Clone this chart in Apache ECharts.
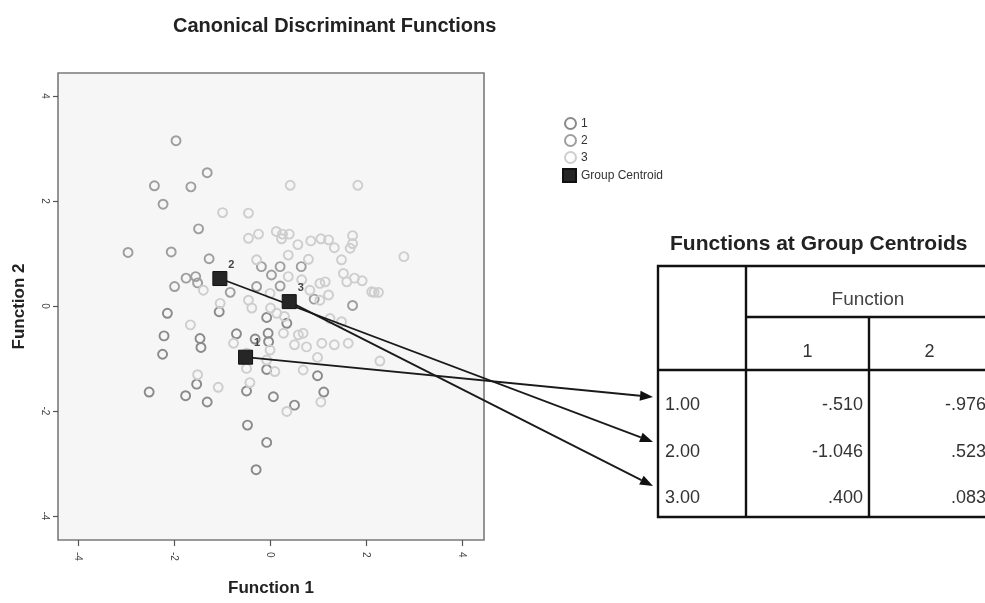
<!DOCTYPE html>
<html>
<head>
<meta charset="utf-8">
<title>Canonical Discriminant Functions</title>
<script src="https://cdn.jsdelivr.net/npm/echarts@6/dist/echarts.min.js"></script>
<style>
html, body { margin: 0; padding: 0; background: #fff; }
#main { width: 985px; height: 603px; }
</style>
</head>
<body>
<div id="main"></div>
<script>
// canonical scores [function 1, function 2]
const group1 = [
    [-2.14, -0.14], [-2.21, -0.57], [-1.46, -0.62], [-1.44, -0.79], [-2.24, -0.92],
    [-0.70, -0.53], [-0.31, -0.63], [-0.07, -0.22], [-0.04, -0.52], [-0.03, -0.68],
    [-0.07, -1.21], [0.35, -0.33], [0.99, -1.33], [1.12, -1.64], [0.51, -1.89],
    [0.07, -1.73], [-0.49, -1.62], [-1.53, -1.49], [-2.52, -1.64], [-1.76, -1.71],
    [-1.31, -1.83], [-0.47, -2.27], [-0.07, -2.60], [-0.29, -3.12], [-1.06, -0.11]
]
const group2 = [
    [-1.96, 3.15], [-1.31, 2.54], [-2.41, 2.29], [-1.65, 2.27], [-2.23, 1.94],
    [-1.49, 1.47], [-2.96, 1.02], [-2.06, 1.03], [-1.27, 0.90], [-1.75, 0.53],
    [-1.55, 0.56], [-1.51, 0.44], [-1.99, 0.37], [-0.83, 0.26], [-0.18, 0.75],
    [0.21, 0.75], [0.03, 0.59], [0.65, 0.75], [-0.28, 0.37], [0.21, 0.38],
    [0.92, 0.13], [1.72, 0.01]
]
const group3 = [
    [-1.66, -0.36], [-1.51, -1.31], [-1.08, -1.55], [-0.42, -1.46], [0.35, -2.01],
    [1.06, -1.83], [0.99, -0.98], [0.42, 2.30], [1.83, 2.30], [-0.99, 1.78],
    [-0.45, 1.77], [2.79, 0.94], [2.26, 0.26], [2.17, 0.26], [1.92, 0.48],
    [2.29, -1.05], [-0.45, 1.29], [-0.24, 1.37], [0.13, 1.42], [0.26, 1.37],
    [0.40, 1.37], [0.24, 1.28], [0.58, 1.17], [0.85, 1.24], [1.06, 1.28],
    [1.22, 1.26], [1.34, 1.11], [1.72, 1.34], [1.72, 1.19], [1.67, 1.10],
    [0.38, 0.97], [0.80, 0.89], [1.49, 0.88], [-0.28, 0.88], [1.53, 0.62],
    [1.60, 0.46], [1.76, 0.53], [1.04, 0.43], [1.15, 0.46], [1.22, 0.21],
    [1.04, 0.11], [0.83, 0.30], [0.66, 0.50], [0.38, 0.56], [0.00, 0.24],
    [-0.38, -0.04], [-0.45, 0.11], [-1.04, 0.05], [-1.39, 0.30], [0.01, -0.04],
    [0.14, -0.14], [0.30, -0.20], [1.25, -0.24], [1.49, -0.30], [0.59, -0.55],
    [0.69, -0.52], [0.28, -0.52], [0.51, -0.74], [0.76, -0.78], [1.08, -0.71],
    [1.34, -0.74], [1.63, -0.71], [-0.76, -0.71], [-0.49, -0.90], [0.00, -0.84],
    [-0.07, -1.03], [0.10, -1.25], [0.69, -1.22], [-0.49, -1.19], [2.12, 0.27]
]
const groupNames = ['1', '2', '3']
const groupColors = ['#8a8a8a', '#9e9e9e', '#cecece']

// functions at group centroids
const rowLabels = ['1.00', '2.00', '3.00']
const centroidF1 = [-0.510, -1.046, 0.400]
const centroidF2 = [-0.976, 0.523, 0.083]
const tickValues = [-4, -2, 0, 2, 4]

// spss prints -.510 rather than -0.510
const spss = v => v.toFixed(3).replace(/^(-?)0\./, '$1.')

const chart = echarts.init(document.getElementById('main'))

const groupSeries = [group1, group2, group3].map((data, i) => ({
    name: groupNames[i],
    type: 'scatter',
    data,
    symbol: 'circle',
    symbolSize: 9,
    itemStyle: {
        color: 'rgba(0,0,0,0)',
        borderColor: groupColors[i],
        borderWidth: 1.9,
        opacity: 1
    },
    z: 2
}))

const option = {
    animation: false,
    backgroundColor: '#fff',
    title: {
        text: 'Canonical Discriminant Functions',
        left: 168,
        top: 11,
        textStyle: { fontFamily: 'Liberation Sans', fontSize: 20, fontWeight: 'bold', color: '#222' }
    },
    legend: [{
        data: groupNames,
        orient: 'vertical',
        left: 559,
        top: 112,
        itemWidth: 11,
        itemHeight: 11,
        itemGap: 4,
        textStyle: { fontFamily: 'Liberation Sans', fontSize: 12, color: '#333', lineHeight: 11 }
    }, {
        data: ['Group Centroid'],
        orient: 'vertical',
        left: 557,
        top: 163,
        itemWidth: 13,
        itemHeight: 13,
        textStyle: { fontFamily: 'Liberation Sans', fontSize: 12, color: '#333', lineHeight: 13 }
    }],
    grid: {
        left: 58,
        top: 73,
        width: 426,
        height: 467,
        show: true,
        backgroundColor: '#f6f6f6',
        borderColor: '#7a7a7a',
        borderWidth: 1.6
    },
    xAxis: {
        type: 'value',
        min: -4.42,
        max: 4.46,
        name: 'Function 1',
        nameLocation: 'middle',
        nameGap: 40,
        nameTextStyle: { fontFamily: 'Liberation Sans', fontSize: 17, fontWeight: 'bold', color: '#222' },
        splitLine: { show: false },
        axisLine: { show: false, onZero: false },
        axisTick: { show: true, customValues: tickValues, length: 6, lineStyle: { color: '#555', width: 1.2 } },
        axisLabel: { customValues: tickValues, rotate: -90, margin: 12, fontSize: 10, color: '#444' }
    },
    yAxis: {
        type: 'value',
        min: -4.46,
        max: 4.44,
        name: 'Function 2',
        nameLocation: 'middle',
        nameGap: 30,
        nameTextStyle: { fontFamily: 'Liberation Sans', fontSize: 17, fontWeight: 'bold', color: '#222' },
        splitLine: { show: false },
        axisLine: { show: false, onZero: false },
        axisTick: { show: true, customValues: tickValues, length: 5, lineStyle: { color: '#555', width: 1.2 } },
        axisLabel: { customValues: tickValues, rotate: -90, margin: 8, fontSize: 10, color: '#444' }
    },
    series: [
        ...groupSeries,
        {
            name: 'Group Centroid',
            type: 'scatter',
            data: centroidF1.map((x, i) => [x, centroidF2[i], groupNames[i]]),
            symbol: 'rect',
            symbolSize: 14,
            itemStyle: { color: '#262626', borderColor: '#111', borderWidth: 1, opacity: 1 },
            label: {
                show: true,
                formatter: p => p.value[2],
                position: [16, -12],
                fontSize: 11,
                fontWeight: 'bold',
                color: '#444'
            },
            z: 6
        }
    ]
}
chart.setOption(option)

// table of centroids, drawn to the right of the plot
const tbl = { left: 658, top: 266, right: 990, bottom: 517, col1: 746, col2: 869, subTop: 317, headBottom: 370 }
const rowY = [405, 452, 498]
const arrowTipY = [397, 442, 486]
const arrowTipX = 653
const lineStroke = { stroke: '#111', lineWidth: 2.4 }
const tableFont = '18px "Liberation Sans", Arial, sans-serif'

const graphics = [
    {
        type: 'text',
        left: 670, top: 234,
        style: { text: 'Functions at Group Centroids', font: 'bold 21px "Liberation Sans", Arial, sans-serif', fill: '#222' }
    },
    { type: 'rect', shape: { x: tbl.left, y: tbl.top, width: tbl.right - tbl.left, height: tbl.bottom - tbl.top }, style: { fill: '#fff', ...lineStroke }, z: 1 },
    { type: 'line', shape: { x1: tbl.col1, y1: tbl.top, x2: tbl.col1, y2: tbl.bottom }, style: lineStroke, z: 2 },
    { type: 'line', shape: { x1: tbl.col1, y1: tbl.subTop, x2: tbl.right, y2: tbl.subTop }, style: lineStroke, z: 2 },
    { type: 'line', shape: { x1: tbl.left, y1: tbl.headBottom, x2: tbl.right, y2: tbl.headBottom }, style: lineStroke, z: 2 },
    { type: 'line', shape: { x1: tbl.col2, y1: tbl.subTop, x2: tbl.col2, y2: tbl.bottom }, style: lineStroke, z: 2 },
    { type: 'text', x: (tbl.col1 + tbl.right) / 2, y: 300, style: { text: 'Function', font: '19px "Liberation Sans", Arial, sans-serif', fill: '#444', align: 'center', verticalAlign: 'middle' }, z: 3 },
    { type: 'text', x: (tbl.col1 + tbl.col2) / 2, y: 352, style: { text: '1', font: tableFont, fill: '#333', align: 'center', verticalAlign: 'middle' }, z: 3 },
    { type: 'text', x: (tbl.col2 + tbl.right) / 2, y: 352, style: { text: '2', font: tableFont, fill: '#333', align: 'center', verticalAlign: 'middle' }, z: 3 }
]

rowLabels.forEach((label, i) => {
    graphics.push(
        { type: 'text', x: 665, y: rowY[i], style: { text: label, font: tableFont, fill: '#333', align: 'left', verticalAlign: 'middle' }, z: 3 },
        { type: 'text', x: tbl.col2 - 6, y: rowY[i], style: { text: spss(centroidF1[i]), font: tableFont, fill: '#333', align: 'right', verticalAlign: 'middle' }, z: 3 },
        { type: 'text', x: tbl.right - 4, y: rowY[i], style: { text: spss(centroidF2[i]), font: tableFont, fill: '#333', align: 'right', verticalAlign: 'middle' }, z: 3 }
    )
    // arrow from centroid to its row
    const [sx, sy] = chart.convertToPixel({ xAxisIndex: 0, yAxisIndex: 0 }, [centroidF1[i], centroidF2[i]])
    const ex = arrowTipX, ey = arrowTipY[i]
    const len = Math.hypot(ex - sx, ey - sy)
    const ux = (ex - sx) / len, uy = (ey - sy) / len
    const headLen = 13, headHalf = 5
    const bx = ex - ux * headLen, by = ey - uy * headLen
    graphics.push(
        { type: 'line', shape: { x1: sx, y1: sy, x2: bx, y2: by }, style: { stroke: '#1a1a1a', lineWidth: 1.8 }, z: 5 },
        {
            type: 'polygon',
            shape: { points: [[ex, ey], [bx - uy * headHalf, by + ux * headHalf], [bx + uy * headHalf, by - ux * headHalf]] },
            style: { fill: '#111' },
            z: 5
        }
    )
})

chart.setOption({ graphic: graphics })
</script>
</body>
</html>
